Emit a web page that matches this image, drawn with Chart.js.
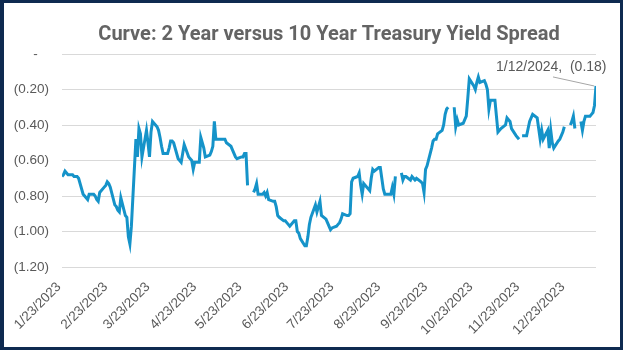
<!DOCTYPE html>
<html>
<head>
<meta charset="utf-8">
<title>2 Year vs 10 Year Treasury Spread</title>
<script src="https://cdn.jsdelivr.net/npm/chart.js@4.4.1/dist/chart.umd.min.js"></script>
<style>
  html, body { margin: 0; padding: 0; background: #fff; }
  #frame {
    width: 623px; height: 350px; box-sizing: border-box;
    border: solid #0e2a50; border-width: 3px 3px 3px 4px;
    background: #fff;
  }
  #wrap { position: relative; width: 616px; height: 344px; }
</style>
</head>
<body>
<div id="frame"><div id="wrap"><canvas id="spreadChart"></canvas></div></div>
<script>
"use strict";

// daily 10Y minus 2Y spread, one row per week (Mon..Fri), null = market closed
const firstDay = '2023-01-23';
const lastDay = '2024-01-12';
const spread = [
    -0.69, -0.68, -0.66, -0.67, -0.68,
    -0.68, -0.69, -0.69, -0.69, -0.70,
    -0.79, -0.80, -0.81, -0.82, -0.79,
    -0.79, -0.80, -0.82, -0.83, -0.78,
    -0.75, -0.74, -0.72, -0.73, -0.75,
    -0.85, -0.86, -0.88, -0.89, -0.81,
    -0.91, -0.92, -1.03, -1.07, -0.97,
    -0.48, -0.58, -0.42, -0.45, -0.58,
    -0.43, -0.50, -0.58, -0.44, -0.38,
    -0.41, -0.43, -0.47, -0.52, -0.56,
    -0.56, -0.53, -0.49, -0.49, -0.50,
    -0.59, -0.60, -0.61, -0.56, -0.51,
    -0.58, -0.59, -0.60, -0.65, -0.61,
    -0.61, -0.47, -0.50, -0.53, -0.58,
    -0.57, -0.55, -0.52, -0.38, -0.48,
    -0.48, -0.48, -0.48, -0.48, -0.50,
    -0.52, -0.54, -0.56, -0.58, -0.59,
    -0.58, -0.58, -0.56, -0.56, -0.74,
    null,  -0.78, -0.76, -0.73, -0.79,
    -0.79, -0.78, -0.80, -0.78, -0.82,
    -0.83, -0.83, -0.86, -0.91, -0.92,
    -0.94, -0.94, -0.95, -0.96, -0.97,
    -0.94, -0.94, -1.00, -1.01, -1.04,
    -1.08, -1.08, -1.03, -0.96, -0.92,
    -0.85, -0.89, -0.86, -0.83, -0.91,
    -0.93, -0.95, -0.97, -0.99, -0.98,
    -0.97, -0.96, -0.95, -0.93, -0.90,
    -0.91, -0.91, -0.90, -0.72, -0.70,
    -0.69, -0.67, -0.74, -0.79, -0.73,
    -0.76, -0.77, -0.70, -0.65, -0.66,
    -0.64, -0.64, -0.70, -0.76, -0.79,
    -0.79, -0.79, -0.75, -0.79, -0.69,
    null,  -0.67, -0.71, -0.69, -0.69,
    -0.71, -0.69, -0.70, -0.71, -0.70,
    -0.72, -0.73, -0.78, -0.65, -0.63,
    -0.53, -0.49, -0.48, -0.48, -0.45,
    -0.43, -0.40, -0.34, -0.31, -0.30,
    null,  -0.30, -0.41, -0.37, -0.40,
    -0.39, -0.37, -0.35, -0.25, -0.14,
    -0.18, -0.20, -0.16, -0.13, -0.16,
    -0.15, -0.17, -0.20, -0.31, -0.26,
    -0.26, -0.35, -0.44, -0.43, -0.42,
    -0.40, -0.36, -0.37, -0.38, -0.42,
    -0.46, -0.47, -0.48, null,  -0.46,
    -0.46, -0.42, -0.38, -0.36, -0.34,
    -0.36, -0.42, -0.48, -0.43, -0.48,
    -0.43, -0.53, -0.43, -0.50, -0.53,
    -0.49, -0.48, -0.46, -0.44, -0.41,
    null,  -0.40, -0.38, -0.35, -0.42,
    null,  -0.38, -0.43, -0.38, -0.35,
    -0.35, -0.34, -0.33, -0.29, -0.18
];
const tickLabels = [
    '1/23/2023', '2/23/2023', '3/23/2023', '4/23/2023', '5/23/2023', '6/23/2023',
    '7/23/2023', '8/23/2023', '9/23/2023', '10/23/2023', '11/23/2023', '12/23/2023'
];
const yTicks = [0, -0.2, -0.4, -0.6, -0.8, -1.0, -1.2];

const DAY = 86400000;
const t0 = Date.parse(firstDay);
const tEnd = Date.parse(lastDay);

function usDate(s) {
    var p = s.split('/').map(Number);
    return Date.UTC(p[2], p[0] - 1, p[1]);
}
function dateText(t) {
    var d = new Date(t);
    return (d.getUTCMonth() + 1) + '/' + d.getUTCDate() + '/' + d.getUTCFullYear();
}
// accounting style: negatives in brackets, zero as a dash
function accounting(v) {
    if (Math.abs(v) < 1e-9) return '-   ';
    var s = Math.abs(v).toFixed(2);
    return v < 0 ? '(' + s + ')' : s;
}

// weekdays between the first and last observation
const days = [];
for (let t = t0; t <= tEnd; t += DAY) {
    const dow = new Date(t).getUTCDay();
    if (dow > 0 && dow < 6) days.push(t);
}
const points = days.map(function(t, i) {
    return { x: (t - t0) / DAY, y: spread[i] };
});
const tickDays = tickLabels.map(function(s) { return (usDate(s) - t0) / DAY; });

const textGrey = '#595959';
const tickFont = { family: '"Liberation Sans", Arial, sans-serif', size: 13.5 };

// data label on the latest observation with a short leader line
const lastPointLabel = {
    id: 'lastPointLabel',
    afterDatasetsDraw(chart) {
        const i = spread.length - 1;
        const pt = chart.getDatasetMeta(0).data[i];
        if (!pt) return;
        const ctx = chart.ctx;
        ctx.save();
        ctx.strokeStyle = '#a6a6a6';
        ctx.lineWidth = 1;
        ctx.beginPath();
        ctx.moveTo(pt.x - 43, pt.y - 9);
        ctx.lineTo(pt.x - 2, pt.y);
        ctx.stroke();
        ctx.font = '14px "Liberation Sans", Arial, sans-serif';
        ctx.fillStyle = textGrey;
        ctx.textAlign = 'left';
        ctx.textBaseline = 'middle';
        ctx.fillText(dateText(days[i]) + ',  ' + accounting(spread[i]), pt.x - 100, pt.y - 19);
        ctx.restore();
    }
};

new Chart(document.getElementById('spreadChart').getContext('2d'), {
    type: 'line',
    data: {
        datasets: [{
            label: '2Y vs 10Y spread',
            data: points,
            borderColor: '#1593c9',
            borderWidth: 3,
            pointRadius: 0,
            tension: 0,
            spanGaps: false
        }]
    },
    options: {
        responsive: true,
        maintainAspectRatio: false,
        animation: false,
        layout: { padding: { top: 0, right: 24, bottom: 0, left: 0 } },
        plugins: {
            legend: { display: false },
            tooltip: { enabled: false },
            title: {
                display: true,
                fullSize: false,
                text: 'Curve: 2 Year versus 10 Year Treasury Yield Spread',
                color: '#646464',
                font: { family: '"Liberation Sans Narrow", "Roboto", sans-serif', size: 20, weight: 'bold' },
                padding: { top: 20, bottom: 7 }
            }
        },
        scales: {
            x: {
                type: 'linear',
                min: 0,
                max: (tEnd - t0) / DAY,
                afterBuildTicks: function(scale) {
                    scale.ticks = tickDays.map(function(v) { return { value: v }; });
                },
                afterFit: function(scale) { scale.height = 80; },
                grid: { display: false },
                border: { display: false },
                ticks: {
                    autoSkip: false,
                    minRotation: 45,
                    maxRotation: 45,
                    padding: 4,
                    labelOffset: -3,
                    color: textGrey,
                    font: tickFont,
                    callback: function(v) {
                        var k = tickDays.indexOf(v);
                        return k < 0 ? '' : tickLabels[k];
                    }
                }
            },
            y: {
                min: -1.2,
                max: 0,
                afterBuildTicks: function(scale) {
                    scale.ticks = yTicks.map(function(v) { return { value: v }; });
                },
                afterFit: function(scale) { scale.width = 58; },
                grid: { color: '#d9d9d9', lineWidth: 1, drawTicks: false },
                border: { display: false },
                ticks: {
                    padding: 13,
                    color: textGrey,
                    font: tickFont,
                    callback: function(v) { return accounting(v); }
                }
            }
        }
    },
    plugins: [lastPointLabel]
});
</script>
</body>
</html>
